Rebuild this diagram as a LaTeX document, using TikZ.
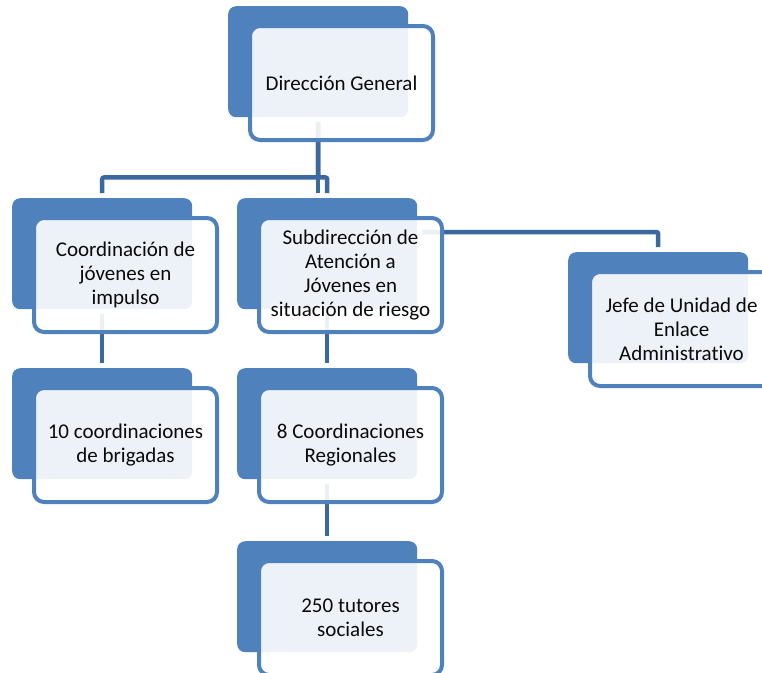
\documentclass[tikz,border=0pt]{standalone}
\usepackage{fontspec}
\setmainfont[Ligatures={NoCommon}]{Carlito}
\usetikzlibrary{calc}
\definecolor{boxblue}{RGB}{79,129,189}
\definecolor{lineblue}{RGB}{60,104,160}
\definecolor{txt}{RGB}{10,10,10}
\tikzset{
  backbox/.style={fill=boxblue, draw=none, rounded corners=8pt, anchor=north west,
    minimum width=180pt, minimum height=111pt, inner sep=0pt},
  frontbox/.style={fill=white, fill opacity=0.9, text opacity=1, draw=boxblue,
    line width=4pt, rounded corners=10pt, anchor=north west,
    minimum width=183pt, minimum height=114pt, inner sep=0pt,
    align=center, text=txt, font=\fontsize{21}{24}\selectfont},
  conn/.style={draw=lineblue, line width=4.5pt, rounded corners=2pt,
    shorten <=5pt, shorten >=5pt}
}
\begin{document}
\begin{tikzpicture}[x=1pt,y=-1pt]
\fill[white] (0,0) rectangle (762,672);
\useasboundingbox (0,0) rectangle (762,672);
\clip (0,0) rectangle (762,672);
% back boxes
\node[backbox] (dgB) at (228,6) {};
\node[backbox] (cjB) at (12,198) {};
\node[backbox] (sbB) at (237,198) {};
\node[backbox] (jfB) at (568,252) {};
\node[backbox] (c10B) at (12,368) {};
\node[backbox] (c8B) at (237,368) {};
\node[backbox] (t250B) at (237,541) {};
% connectors
\draw[conn] (dgB.south) -- ++(0,60) -| (cjB.north);
\draw[conn] (dgB.south) -- (dgB.south |- sbB.north);
\draw[conn] (dgB.south) -- ++(0,60) -| (sbB.north);
\draw[conn] ([yshift=-34pt]sbB.north east) -| (jfB.north);
\draw[conn] (cjB.south) -- (c10B.north);
\draw[conn] (sbB.south) -- (c8B.north);
\draw[conn] (c8B.south) -- (t250B.north);
% front boxes
\node[frontbox] (dg) at ($(dgB.north west)+(20,18)$) {Dirección General};
\node[frontbox] (cj) at ($(cjB.north west)+(20,18)$) {Coordinación de\\jóvenes en\\impulso};
\node[frontbox] (sb) at ($(sbB.north west)+(20,18)$) {Subdirección de\\Atención a\\Jóvenes en\\situación de riesgo};
\node[frontbox] (jf) at ($(jfB.north west)+(20,18)$) {Jefe de Unidad de\\Enlace\\Administrativo};
\node[frontbox] (c10) at ($(c10B.north west)+(20,18)$) {10 coordinaciones\\de brigadas};
\node[frontbox] (c8) at ($(c8B.north west)+(20,18)$) {8 Coordinaciones\\Regionales};
\node[frontbox] (t250) at ($(t250B.north west)+(20,18)$) {250 tutores\\sociales};
\end{tikzpicture}
\end{document}
